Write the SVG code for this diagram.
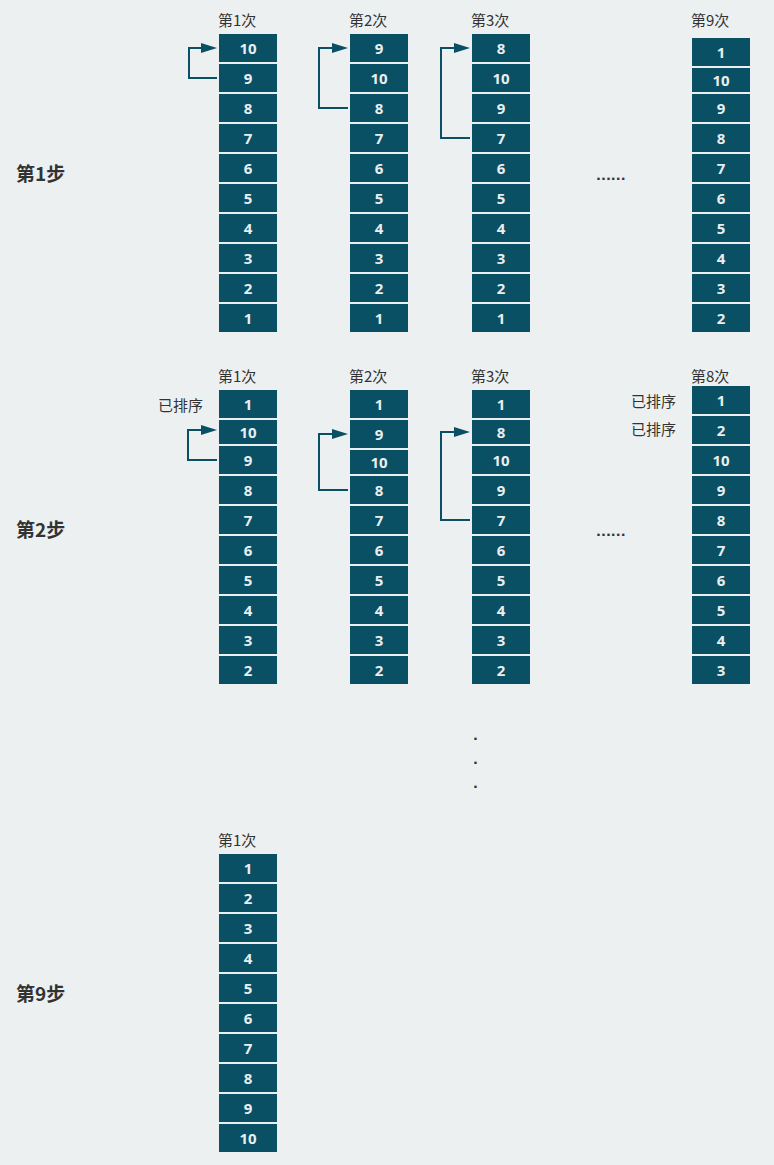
<svg xmlns="http://www.w3.org/2000/svg" width="774" height="1165" viewBox="0 0 774 1165">
<defs>
<style>
.bg{fill:#ecf0f1}
.c rect{fill:#0a5064}
.c text{fill:#e9eef0;font-family:"Noto Sans","Open Sans",sans-serif;font-weight:bold;font-size:15px;text-anchor:middle}
.lb{fill:#333;font-family:"Noto Sans CJK SC","Noto Sans",sans-serif;font-size:15px}
.st{fill:#333;font-family:"Noto Sans CJK SC","Noto Sans",sans-serif;font-size:19px;font-weight:bold}
.dot{fill:#333;font-family:"DejaVu Sans",sans-serif;font-weight:bold;font-size:13px}
.ar{fill:none;stroke:#0a5064;stroke-width:2;marker-end:url(#ah)}
</style>
<marker id="ah" markerUnits="userSpaceOnUse" markerWidth="16" markerHeight="10" refX="0" refY="5" orient="auto"><path d="M0,0 L16,5 L0,10 z" fill="#0a5064"/></marker>
</defs>
<rect class="bg" x="0" y="0" width="774" height="1165"/>

<g id="step-labels">
<text class="st" x="16" y="181">第1步</text>
<text class="st" x="16" y="537">第2步</text>
<text class="st" x="16" y="1001">第9步</text>
</g>

<g id="pass-labels">
<text class="lb" x="218" y="26">第1次</text>
<text class="lb" x="349" y="26">第2次</text>
<text class="lb" x="471" y="26">第3次</text>
<text class="lb" x="691" y="26">第9次</text>
<text class="lb" x="218" y="382">第1次</text>
<text class="lb" x="349" y="382">第2次</text>
<text class="lb" x="471" y="382">第3次</text>
<text class="lb" x="691" y="382">第8次</text>
<text class="lb" x="218" y="846">第1次</text>
<text class="lb" x="158" y="411">已排序</text>
<text class="lb" x="631" y="407">已排序</text>
<text class="lb" x="631" y="435">已排序</text>
</g>

<g id="ellipses">
<text class="dot" x="596" y="180">......</text>
<text class="dot" x="596" y="536">......</text>
<text class="dot" x="475.5" y="740" text-anchor="middle">.</text>
<text class="dot" x="475.5" y="764" text-anchor="middle">.</text>
<text class="dot" x="475.5" y="788" text-anchor="middle">.</text>
</g>

<g id="connectors">
<path class="ar" d="M217,78 H189 V48 H201"/>
<path class="ar" d="M348,108 H319 V48 H332"/>
<path class="ar" d="M470,138 H441 V48 H454"/>
<path class="ar" d="M217,460 H188 V430 H201"/>
<path class="ar" d="M348,490 H319 V434 H332"/>
<path class="ar" d="M470,520 H441 V432 H454"/>
</g>

<!-- Step 1, pass 1 -->
<g id="s1p1">
<g class="c" id="s1p1-0"><rect x="219" y="34" width="58" height="28"/><text x="248" y="53.5">10</text></g>
<g class="c" id="s1p1-1"><rect x="219" y="64" width="58" height="28"/><text x="248" y="83.5">9</text></g>
<g class="c" id="s1p1-2"><rect x="219" y="94" width="58" height="28"/><text x="248" y="113.5">8</text></g>
<g class="c" id="s1p1-3"><rect x="219" y="124" width="58" height="28"/><text x="248" y="143.5">7</text></g>
<g class="c" id="s1p1-4"><rect x="219" y="154" width="58" height="28"/><text x="248" y="173.5">6</text></g>
<g class="c" id="s1p1-5"><rect x="219" y="184" width="58" height="28"/><text x="248" y="203.5">5</text></g>
<g class="c" id="s1p1-6"><rect x="219" y="214" width="58" height="28"/><text x="248" y="233.5">4</text></g>
<g class="c" id="s1p1-7"><rect x="219" y="244" width="58" height="28"/><text x="248" y="263.5">3</text></g>
<g class="c" id="s1p1-8"><rect x="219" y="274" width="58" height="28"/><text x="248" y="293.5">2</text></g>
<g class="c" id="s1p1-9"><rect x="219" y="304" width="58" height="28"/><text x="248" y="323.5">1</text></g>
</g>
<!-- Step 1, pass 2 -->
<g id="s1p2">
<g class="c" id="s1p2-0"><rect x="350" y="34" width="58" height="28"/><text x="379" y="53.5">9</text></g>
<g class="c" id="s1p2-1"><rect x="350" y="64" width="58" height="28"/><text x="379" y="83.5">10</text></g>
<g class="c" id="s1p2-2"><rect x="350" y="94" width="58" height="28"/><text x="379" y="113.5">8</text></g>
<g class="c" id="s1p2-3"><rect x="350" y="124" width="58" height="28"/><text x="379" y="143.5">7</text></g>
<g class="c" id="s1p2-4"><rect x="350" y="154" width="58" height="28"/><text x="379" y="173.5">6</text></g>
<g class="c" id="s1p2-5"><rect x="350" y="184" width="58" height="28"/><text x="379" y="203.5">5</text></g>
<g class="c" id="s1p2-6"><rect x="350" y="214" width="58" height="28"/><text x="379" y="233.5">4</text></g>
<g class="c" id="s1p2-7"><rect x="350" y="244" width="58" height="28"/><text x="379" y="263.5">3</text></g>
<g class="c" id="s1p2-8"><rect x="350" y="274" width="58" height="28"/><text x="379" y="293.5">2</text></g>
<g class="c" id="s1p2-9"><rect x="350" y="304" width="58" height="28"/><text x="379" y="323.5">1</text></g>
</g>
<!-- Step 1, pass 3 -->
<g id="s1p3">
<g class="c" id="s1p3-0"><rect x="472" y="34" width="58" height="28"/><text x="501" y="53.5">8</text></g>
<g class="c" id="s1p3-1"><rect x="472" y="64" width="58" height="28"/><text x="501" y="83.5">10</text></g>
<g class="c" id="s1p3-2"><rect x="472" y="94" width="58" height="28"/><text x="501" y="113.5">9</text></g>
<g class="c" id="s1p3-3"><rect x="472" y="124" width="58" height="28"/><text x="501" y="143.5">7</text></g>
<g class="c" id="s1p3-4"><rect x="472" y="154" width="58" height="28"/><text x="501" y="173.5">6</text></g>
<g class="c" id="s1p3-5"><rect x="472" y="184" width="58" height="28"/><text x="501" y="203.5">5</text></g>
<g class="c" id="s1p3-6"><rect x="472" y="214" width="58" height="28"/><text x="501" y="233.5">4</text></g>
<g class="c" id="s1p3-7"><rect x="472" y="244" width="58" height="28"/><text x="501" y="263.5">3</text></g>
<g class="c" id="s1p3-8"><rect x="472" y="274" width="58" height="28"/><text x="501" y="293.5">2</text></g>
<g class="c" id="s1p3-9"><rect x="472" y="304" width="58" height="28"/><text x="501" y="323.5">1</text></g>
</g>
<!-- Step 1, pass 9 -->
<g id="s1p9">
<g class="c" id="s1p9-0"><rect x="692" y="38" width="58" height="28"/><text x="721" y="57.5">1</text></g>
<g class="c" id="s1p9-1"><rect x="692" y="68" width="58" height="24"/><text x="721" y="85.5">10</text></g>
<g class="c" id="s1p9-2"><rect x="692" y="94" width="58" height="28"/><text x="721" y="113.5">9</text></g>
<g class="c" id="s1p9-3"><rect x="692" y="124" width="58" height="28"/><text x="721" y="143.5">8</text></g>
<g class="c" id="s1p9-4"><rect x="692" y="154" width="58" height="28"/><text x="721" y="173.5">7</text></g>
<g class="c" id="s1p9-5"><rect x="692" y="184" width="58" height="28"/><text x="721" y="203.5">6</text></g>
<g class="c" id="s1p9-6"><rect x="692" y="214" width="58" height="28"/><text x="721" y="233.5">5</text></g>
<g class="c" id="s1p9-7"><rect x="692" y="244" width="58" height="28"/><text x="721" y="263.5">4</text></g>
<g class="c" id="s1p9-8"><rect x="692" y="274" width="58" height="28"/><text x="721" y="293.5">3</text></g>
<g class="c" id="s1p9-9"><rect x="692" y="304" width="58" height="28"/><text x="721" y="323.5">2</text></g>
</g>

<!-- Step 2, pass 1 -->
<g id="s2p1">
<g class="c" id="s2p1-0"><rect x="219" y="390" width="58" height="28"/><text x="248" y="409.5">1</text></g>
<g class="c" id="s2p1-1"><rect x="219" y="420" width="58" height="24"/><text x="248" y="437.5">10</text></g>
<g class="c" id="s2p1-2"><rect x="219" y="446" width="58" height="28"/><text x="248" y="465.5">9</text></g>
<g class="c" id="s2p1-3"><rect x="219" y="476" width="58" height="28"/><text x="248" y="495.5">8</text></g>
<g class="c" id="s2p1-4"><rect x="219" y="506" width="58" height="28"/><text x="248" y="525.5">7</text></g>
<g class="c" id="s2p1-5"><rect x="219" y="536" width="58" height="28"/><text x="248" y="555.5">6</text></g>
<g class="c" id="s2p1-6"><rect x="219" y="566" width="58" height="28"/><text x="248" y="585.5">5</text></g>
<g class="c" id="s2p1-7"><rect x="219" y="596" width="58" height="28"/><text x="248" y="615.5">4</text></g>
<g class="c" id="s2p1-8"><rect x="219" y="626" width="58" height="28"/><text x="248" y="645.5">3</text></g>
<g class="c" id="s2p1-9"><rect x="219" y="656" width="58" height="28"/><text x="248" y="675.5">2</text></g>
</g>
<!-- Step 2, pass 2 -->
<g id="s2p2">
<g class="c" id="s2p2-0"><rect x="350" y="390" width="58" height="28"/><text x="379" y="409.5">1</text></g>
<g class="c" id="s2p2-1"><rect x="350" y="420" width="58" height="28"/><text x="379" y="439.5">9</text></g>
<g class="c" id="s2p2-2"><rect x="350" y="450" width="58" height="24"/><text x="379" y="467.5">10</text></g>
<g class="c" id="s2p2-3"><rect x="350" y="476" width="58" height="28"/><text x="379" y="495.5">8</text></g>
<g class="c" id="s2p2-4"><rect x="350" y="506" width="58" height="28"/><text x="379" y="525.5">7</text></g>
<g class="c" id="s2p2-5"><rect x="350" y="536" width="58" height="28"/><text x="379" y="555.5">6</text></g>
<g class="c" id="s2p2-6"><rect x="350" y="566" width="58" height="28"/><text x="379" y="585.5">5</text></g>
<g class="c" id="s2p2-7"><rect x="350" y="596" width="58" height="28"/><text x="379" y="615.5">4</text></g>
<g class="c" id="s2p2-8"><rect x="350" y="626" width="58" height="28"/><text x="379" y="645.5">3</text></g>
<g class="c" id="s2p2-9"><rect x="350" y="656" width="58" height="28"/><text x="379" y="675.5">2</text></g>
</g>
<!-- Step 2, pass 3 -->
<g id="s2p3">
<g class="c" id="s2p3-0"><rect x="472" y="390" width="58" height="28"/><text x="501" y="409.5">1</text></g>
<g class="c" id="s2p3-1"><rect x="472" y="420" width="58" height="24"/><text x="501" y="437.5">8</text></g>
<g class="c" id="s2p3-2"><rect x="472" y="446" width="58" height="28"/><text x="501" y="465.5">10</text></g>
<g class="c" id="s2p3-3"><rect x="472" y="476" width="58" height="28"/><text x="501" y="495.5">9</text></g>
<g class="c" id="s2p3-4"><rect x="472" y="506" width="58" height="28"/><text x="501" y="525.5">7</text></g>
<g class="c" id="s2p3-5"><rect x="472" y="536" width="58" height="28"/><text x="501" y="555.5">6</text></g>
<g class="c" id="s2p3-6"><rect x="472" y="566" width="58" height="28"/><text x="501" y="585.5">5</text></g>
<g class="c" id="s2p3-7"><rect x="472" y="596" width="58" height="28"/><text x="501" y="615.5">4</text></g>
<g class="c" id="s2p3-8"><rect x="472" y="626" width="58" height="28"/><text x="501" y="645.5">3</text></g>
<g class="c" id="s2p3-9"><rect x="472" y="656" width="58" height="28"/><text x="501" y="675.5">2</text></g>
</g>
<!-- Step 2, pass 8 -->
<g id="s2p8">
<g class="c" id="s2p8-0"><rect x="692" y="386" width="58" height="28"/><text x="721" y="405.5">1</text></g>
<g class="c" id="s2p8-1"><rect x="692" y="416" width="58" height="28"/><text x="721" y="435.5">2</text></g>
<g class="c" id="s2p8-2"><rect x="692" y="446" width="58" height="28"/><text x="721" y="465.5">10</text></g>
<g class="c" id="s2p8-3"><rect x="692" y="476" width="58" height="28"/><text x="721" y="495.5">9</text></g>
<g class="c" id="s2p8-4"><rect x="692" y="506" width="58" height="28"/><text x="721" y="525.5">8</text></g>
<g class="c" id="s2p8-5"><rect x="692" y="536" width="58" height="28"/><text x="721" y="555.5">7</text></g>
<g class="c" id="s2p8-6"><rect x="692" y="566" width="58" height="28"/><text x="721" y="585.5">6</text></g>
<g class="c" id="s2p8-7"><rect x="692" y="596" width="58" height="28"/><text x="721" y="615.5">5</text></g>
<g class="c" id="s2p8-8"><rect x="692" y="626" width="58" height="28"/><text x="721" y="645.5">4</text></g>
<g class="c" id="s2p8-9"><rect x="692" y="656" width="58" height="28"/><text x="721" y="675.5">3</text></g>
</g>

<!-- Step 9, pass 1 -->
<g id="s9p1">
<g class="c" id="s9p1-0"><rect x="219" y="854" width="58" height="28"/><text x="248" y="873.5">1</text></g>
<g class="c" id="s9p1-1"><rect x="219" y="884" width="58" height="28"/><text x="248" y="903.5">2</text></g>
<g class="c" id="s9p1-2"><rect x="219" y="914" width="58" height="28"/><text x="248" y="933.5">3</text></g>
<g class="c" id="s9p1-3"><rect x="219" y="944" width="58" height="28"/><text x="248" y="963.5">4</text></g>
<g class="c" id="s9p1-4"><rect x="219" y="974" width="58" height="28"/><text x="248" y="993.5">5</text></g>
<g class="c" id="s9p1-5"><rect x="219" y="1004" width="58" height="28"/><text x="248" y="1023.5">6</text></g>
<g class="c" id="s9p1-6"><rect x="219" y="1034" width="58" height="28"/><text x="248" y="1053.5">7</text></g>
<g class="c" id="s9p1-7"><rect x="219" y="1064" width="58" height="28"/><text x="248" y="1083.5">8</text></g>
<g class="c" id="s9p1-8"><rect x="219" y="1094" width="58" height="28"/><text x="248" y="1113.5">9</text></g>
<g class="c" id="s9p1-9"><rect x="219" y="1124" width="58" height="28"/><text x="248" y="1143.5">10</text></g>
</g>
</svg>
